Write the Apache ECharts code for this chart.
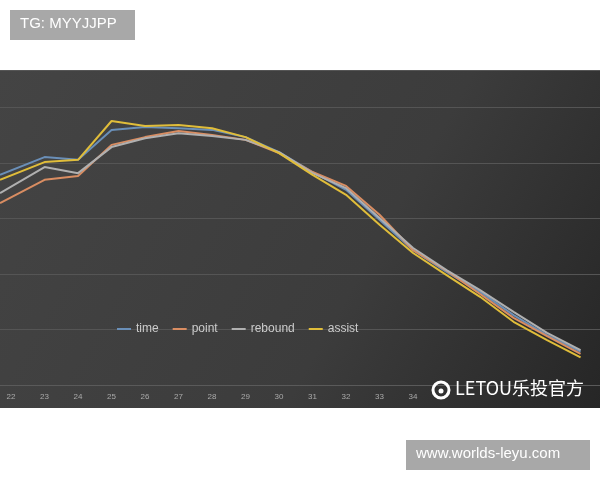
<!DOCTYPE html>
<html>
<head>
<meta charset="utf-8">
<script src="https://cdn.jsdelivr.net/npm/echarts@6/dist/echarts.min.js"></script>
<style>html,body{margin:0;background:#fff}#c{width:600px;height:480px}</style>
</head>
<body>
<div id="c"></div>
<script>
// x positions (ages); first point is where the lines leave the left edge
var ages = [21.67, 23, 24, 25, 26, 27, 28, 29, 30, 31, 32, 33, 34, 35, 36, 37, 38, 39];
var tickAges = [22, 23, 24, 25, 26, 27, 28, 29, 30, 31, 32, 33, 34];
var time = [3.79, 4.11, 4.06, 4.60, 4.65, 4.63, 4.60, 4.47, 4.20, 3.84, 3.52, 2.98, 2.43, 2.04, 1.68, 1.26, 0.90, 0.60];
var point = [3.28, 3.70, 3.77, 4.33, 4.47, 4.58, 4.51, 4.42, 4.18, 3.84, 3.59, 3.07, 2.43, 2.06, 1.64, 1.21, 0.88, 0.56];
var rebound = [3.46, 3.93, 3.82, 4.29, 4.45, 4.54, 4.49, 4.42, 4.20, 3.82, 3.55, 3.01, 2.47, 2.07, 1.71, 1.32, 0.94, 0.63];
var assist = [3.70, 4.02, 4.06, 4.76, 4.67, 4.69, 4.63, 4.47, 4.18, 3.79, 3.43, 2.89, 2.38, 1.98, 1.59, 1.14, 0.81, 0.50];
var names = ['time', 'point', 'rebound', 'assist'];
var colors = ['#6a8fb8', '#d98d62', '#b0b0b0', '#e0bd3a'];

function pairs(vals) {
  return vals.map(function (v, i) { return [ages[i], v]; });
}

var chart = echarts.init(document.getElementById('c'));
var series = [time, point, rebound, assist].map(function (vals, i) {
  return {
    name: names[i], type: 'line', data: pairs(vals), showSymbol: false,
    lineStyle: { width: 2, color: colors[i] }, itemStyle: { color: colors[i] }, z: 3
  };
});

chart.setOption({
  backgroundColor: '#fff',
  animation: false,
  graphic: [
    { type: 'rect', z: -10, shape: { x: 0, y: 70, width: 600, height: 338 },
      style: { fill: new echarts.graphic.LinearGradient(0, 0, 1, 1, [
        { offset: 0, color: '#444' }, { offset: 0.6, color: '#3c3c3c' }, { offset: 1, color: '#262626' }]) } },
    { type: 'rect', shape: { x: 10, y: 10, width: 125, height: 30 }, style: { fill: '#a8a8a8' } },
    { type: 'text', left: 20, top: 16, style: { text: 'TG: MYYJJPP', fill: '#fff', font: '15px "Liberation Sans", Arial' } },
    { type: 'rect', shape: { x: 406, y: 440, width: 184, height: 30 }, style: { fill: '#a8a8a8' } },
    { type: 'text', left: 416, top: 446, style: { text: 'www.worlds-leyu.com', fill: '#fff', font: '15px "Liberation Sans", Arial' } },
    { type: 'circle', z: 10, shape: { cx: 441, cy: 390, r: 8 }, style: { fill: 'none', stroke: '#fff', lineWidth: 3 } },
    { type: 'circle', z: 10, shape: { cx: 441, cy: 391, r: 2.5 }, style: { fill: '#fff' } },
    { type: 'text', z: 10, left: 455, top: 379, style: { text: 'LETOU乐投官方', fill: '#fff', font: '18px "Noto Sans CJK SC", sans-serif' } }
  ],
  legend: {
    data: names, left: 112, top: 318, itemWidth: 14, itemHeight: 2, itemGap: 14,
    icon: 'rect', textStyle: { color: '#ccc', fontSize: 12 }
  },
  grid: { left: 0, right: 0, top: 70, height: 315 },
  xAxis: {
    type: 'value', min: 21.67, max: 39.58,
    axisLine: { lineStyle: { color: '#5a5a5a' } }, axisTick: { show: false }, splitLine: { show: false },
    axisLabel: { color: '#aaa', fontSize: 8, margin: 8, customValues: tickAges }
  },
  yAxis: {
    type: 'value', min: 0, max: 5.68, interval: 1, axisLabel: { show: false },
    axisLine: { show: false }, axisTick: { show: false },
    splitLine: { lineStyle: { color: '#555' } }
  },
  series: series
});
</script>
</body>
</html>
